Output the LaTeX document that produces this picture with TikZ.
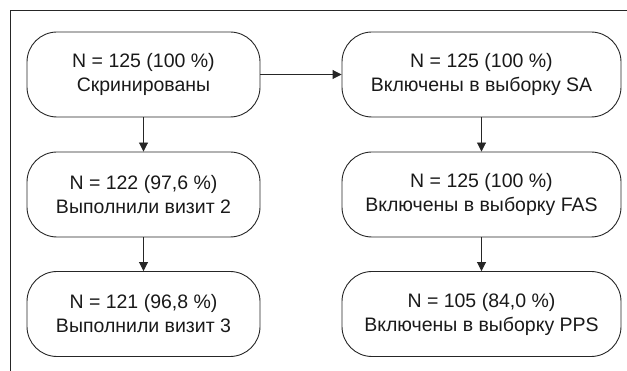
\documentclass[tikz,border=0pt]{standalone}
\usepackage{fontspec}
\setmainfont{Liberation Sans}
\usetikzlibrary{arrows.meta}
\begin{document}
\begin{tikzpicture}[x=1pt,y=-1pt,
    box/.style={draw=black!85,line width=0.9pt,rounded corners=30pt,
      minimum height=85pt,align=center,inner sep=0pt,
      font=\fontsize{19.5}{24}\selectfont,text=black!90},
    lbox/.style={box,minimum width=233pt},
    rbox/.style={box,minimum width=279pt}]
      \useasboundingbox (0,0) rectangle (627,371);
      \draw[line width=0.9pt,black!85] (10,371) -- (10,10.5) -- (627,10.5);
      \draw
        (143.5,74.5) node[lbox] (scr){N = 125 (100 \%)\\Скринированы}
        (143.5,194.5) node[lbox] (v2){N = 122 (97,6 \%)\\Выполнили визит 2}
        (143.5,314) node[lbox] (v3){N = 121 (96,8 \%)\\Выполнили визит 3}
        (481.5,74.5) node[rbox] (sa){N = 125 (100 \%)\\Включены в выборку SA}
        (481.5,194.5) node[rbox] (fas){N = 125 (100 \%)\\Включены в выборку FAS}
        (481.5,314) node[rbox] (pps){N = 105 (84,0 \%)\\Включены в выборку PPS};
      \begin{scope}[-{Triangle[length=9pt,width=9pt]},line width=0.9pt,black!85]
        \draw (scr) to (sa);
        \draw (scr) to (v2);
        \draw (v2) to (v3);
        \draw (sa) to (fas);
        \draw (fas) to (pps);
      \end{scope}
    \end{tikzpicture}
\end{document}
